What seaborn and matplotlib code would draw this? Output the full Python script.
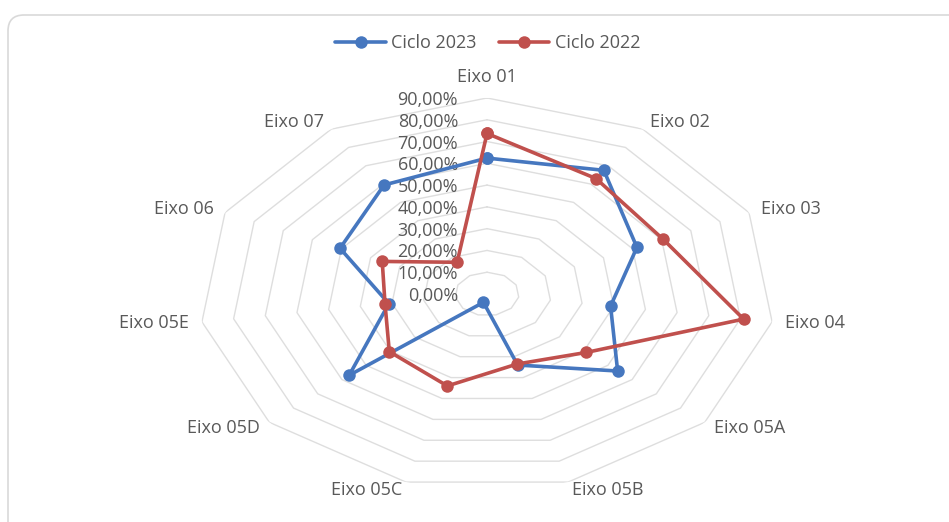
import numpy as np
import pandas as pd
import matplotlib
matplotlib.use('Agg')
import matplotlib.pyplot as plt
from matplotlib.lines import Line2D
from matplotlib.patches import FancyBboxPatch
from matplotlib.transforms import IdentityTransform
import seaborn as sns

# valores (em %)
eixos = ['Eixo 01', 'Eixo 02', 'Eixo 03', 'Eixo 04', 'Eixo 05A', 'Eixo 05B',
         'Eixo 05C', 'Eixo 05D', 'Eixo 05E', 'Eixo 06', 'Eixo 07']
ciclo_2023 = [62.4, 67.5, 51.5, 39.0, 54.0, 34.0, 4.0, 57.0, 31.0, 50.5, 59.5]
ciclo_2022 = [73.7, 63.0, 60.5, 81.0, 41.0, 33.5, 44.0, 40.4, 32.2, 36.0, 17.3]
series = ['Ciclo 2023', 'Ciclo 2022']
niveis = [0, 10, 20, 30, 40, 50, 60, 70, 80, 90]
rotulos = ['0,00%', '10,00%', '20,00%', '30,00%', '40,00%', '50,00%',
           '60,00%', '70,00%', '80,00%', '90,00%']
cores = {'Ciclo 2023': '#4677BF', 'Ciclo 2022': '#C0504D'}
cinza = '#595959'
fs = 13

sns.set_style('white')
plt.rcParams['font.family'] = ['Open Sans', 'DejaVu Sans']

n = len(eixos)
ang = np.linspace(0, 2 * np.pi, n, endpoint=False)
ang_fech = np.append(ang, 2 * np.pi)

linhas = []
for nome, vals in zip(series, [ciclo_2023, ciclo_2022]):
    v = list(vals) + [vals[0]]
    for a, x in zip(ang_fech, v):
        linhas.append((a, x, nome))
df = pd.DataFrame(linhas, columns=['ang', 'valor', 'serie'])

fig = plt.figure(figsize=(9.49, 5.22), dpi=100)
fig.add_artist(FancyBboxPatch((8, -30), 980, 537, boxstyle='round,pad=0,rounding_size=16',
                              transform=IdentityTransform(), facecolor='white',
                              edgecolor='#D9D9D9', lw=1.2, zorder=0))

ax = fig.add_axes([0.2097, 0.0613, 0.607, 0.751], projection='polar')
ax.set_aspect('auto')
ax.set_theta_zero_location('N')
ax.set_theta_direction(-1)
ax.set_ylim(0, 90)
ax.grid(False)
ax.set_xticks([])
ax.set_yticks([])
ax.spines['polar'].set_visible(False)
ax.patch.set_alpha(0)

# aneis poligonais
for nv in niveis[1:]:
    ax.plot(ang_fech, [nv] * (n + 1), color='#DEDEDE', lw=1, zorder=1)

for nv, txt in zip(niveis, rotulos):
    ax.annotate(txt, xy=(0, nv), xytext=(-29, -2), textcoords='offset pixels',
                ha='right', va='center', fontsize=fs, color=cinza, zorder=2)

for a, nome in zip(ang, eixos):
    s = np.sin(a)
    if abs(s) < 0.1:
        ax.text(a, 99.5, nome, ha='center', va='center', fontsize=fs, color=cinza)
    else:
        ax.text(a, 94, nome, ha='left' if s > 0 else 'right', va='center',
                fontsize=fs, color=cinza)

sns.lineplot(data=df, x='ang', y='valor', hue='serie', hue_order=series, palette=cores,
             sort=False, estimator=None, marker='o', markersize=9, markeredgewidth=0,
             linewidth=2.6, legend=False, ax=ax, zorder=3)
ax.set_xlabel('')
ax.set_ylabel('')

handles = [Line2D([], [], color=cores[s], lw=2.6, marker='o', markersize=9,
                  markeredgewidth=0) for s in series]
fig.legend(handles, series, loc='center', bbox_to_anchor=(0.514, 1 - 43 / 522), ncol=2,
           frameon=False, handlelength=2.8, columnspacing=1.2, handletextpad=0.3,
           fontsize=fs, labelcolor=cinza)

fig.savefig('out.png', dpi=100, facecolor='white')
